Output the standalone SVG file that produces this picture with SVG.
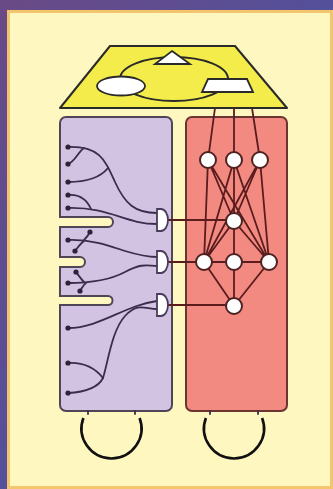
<svg xmlns="http://www.w3.org/2000/svg" width="333" height="489" viewBox="0 0 333 489">
  <style>
    .wire { fill: none; stroke: #3b2c4c; stroke-width: 1.8; stroke-linecap: round; }
    .dot { fill: #2e2238; }
    .gate { fill: #ffffff; stroke: #4a3b5c; stroke-width: 1.8; }
    .net { fill: none; stroke: #5a1c1c; stroke-width: 1.8; }
    .node { fill: #ffffff; stroke: #4f2222; stroke-width: 2; }
    .loop { fill: none; stroke: #111111; stroke-width: 2.6; }
    .shape { fill: #ffffff; stroke: #2a2a2a; stroke-width: 1.8; }
  </style>
  <defs>
    <linearGradient id="frame" x1="0" y1="0" x2="1" y2="1">
      <stop offset="0" stop-color="#6a4a86"/>
      <stop offset="0.5" stop-color="#54509a"/>
      <stop offset="1" stop-color="#6a467e"/>
    </linearGradient>
  </defs>

  <!-- frame and panel -->
  <rect x="0" y="0" width="333" height="489" fill="url(#frame)"/>
  <rect x="7" y="10" width="326" height="479" fill="#f3c56c"/>
  <rect x="10" y="13" width="320" height="473" fill="#fef8c0"/>

  <!-- top plane with cycle -->
  <g id="plane">
    <polygon points="110,46 235,46 287,108 60,108" fill="#f4ec4a" stroke="#2a2a2a" stroke-width="2" stroke-linejoin="round"/>
    <ellipse cx="174" cy="79" rx="54" ry="22" fill="none" stroke="#2a2a2a" stroke-width="2"/>
    <polygon class="shape" points="172,51 190,64 155,64"/>
    <ellipse class="shape" cx="121" cy="86" rx="24" ry="9.5"/>
    <polygon class="shape" points="208,79 247,79 253,92 202,92"/>
  </g>

  <!-- left module with slots -->
  <g id="module-left">
    <path d="M66 117 H166 A6 6 0 0 1 172 123 V405 A6 6 0 0 1 166 411 H66 A6 6 0 0 1 60 405 V305 H108 A4.5 4.5 0 0 0 108 296 H60 V267 H80 A5 5 0 0 0 80 257 H60 V227 H108 A5 5 0 0 0 108 217 H60 V123 A6 6 0 0 1 66 117 Z" fill="#d2c3e3" stroke="#4e4656" stroke-width="2"/>
  </g>

  <!-- right module -->
  <g id="module-right">
    <rect x="186" y="117" width="101" height="294" rx="6" fill="#f28a82" stroke="#6a3530" stroke-width="2"/>
  </g>

  <!-- loops under the modules -->
  <g id="loop-left">
    <path class="wire" d="M88 411 V414 M135 411 V414" stroke="#5a4a66"/>
    <path class="loop" d="M83.4 418 A30 30 0 1 0 139.6 418"/>
  </g>
  <g id="loop-right">
    <path class="wire" d="M210 411 V414 M258 411 V414" stroke="#6a3530"/>
    <path class="loop" d="M205.9 418 A30 30 0 1 0 262.1 418"/>
  </g>

  <!-- connectors -->
  <g id="connectors">
    <!-- input wires -->
    <path class="wire" d="M68 147 C100 146 105 160 115 182 C125 204 135 213 157 213"/>
    <path class="wire" d="M68 164 C75 162 78 152 84 148"/>
    <path class="wire" d="M68 182 C85 182 100 178 108 168"/>
    <path class="wire" d="M68 195 C80 194 87 200 91 209"/>
    <path class="wire" d="M68 208 C110 207 125 224 157 224"/>

    <path class="wire" d="M68 240 C95 239 115 248 125 251 S145 257 157 257"/>
    <path class="wire" d="M90 232 C88 236 86 238 84 240"/>
    <path class="wire" d="M75 251 C78 247 80 244 84 241"/>

    <path class="wire" d="M68 283 C90 283 110 280 125 272 S145 265 157 266"/>
    <path class="wire" d="M76 272 C79 276 81 279 84 282"/>
    <path class="wire" d="M80 291 C82 288 83 285 86 283"/>

    <path class="wire" d="M68 328 C100 328 125 305 157 301"/>
    <path class="wire" d="M68 363 C85 362 95 368 103 378"/>
    <path class="wire" d="M68 393 C85 392 98 388 103 378"/>
    <path class="wire" d="M103 378 C108 362 112 330 125 316 S145 309 157 309"/>

    <!-- gate outputs -->
    <path class="net" d="M168 220 H226 M168 262 H196 M168 305 H226"/>

    <!-- plane to top nodes -->
    <path class="net" d="M215 108 L208 160 M234 108 L234 160 M252 108 L260 160"/>

    <!-- network -->
    <path class="net" d="M208 160 L234 221 M234 160 L234 221 M260 160 L234 221
      M208 160 L204 262 M234 160 L204 262 M260 160 L204 262
      M208 160 L269 262 M234 160 L269 262 M260 160 L269 262
      M234 221 L204 262 M234 221 L234 262 M234 221 L269 262
      M204 262 H269
      M204 262 L234 306 M234 262 L234 306 M269 262 L234 306"/>
  </g>

  <!-- dots -->
  <g id="terminals">
    <circle class="dot" cx="68" cy="147" r="2.6"/>
    <circle class="dot" cx="68" cy="164" r="2.6"/>
    <circle class="dot" cx="68" cy="182" r="2.6"/>
    <circle class="dot" cx="68" cy="195" r="2.6"/>
    <circle class="dot" cx="68" cy="208" r="2.6"/>
    <circle class="dot" cx="68" cy="240" r="2.6"/>
    <circle class="dot" cx="90" cy="232" r="2.6"/>
    <circle class="dot" cx="75" cy="251" r="2.6"/>
    <circle class="dot" cx="68" cy="283" r="2.6"/>
    <circle class="dot" cx="76" cy="272" r="2.6"/>
    <circle class="dot" cx="80" cy="291" r="2.6"/>
    <circle class="dot" cx="68" cy="328" r="2.6"/>
    <circle class="dot" cx="68" cy="363" r="2.6"/>
    <circle class="dot" cx="68" cy="393" r="2.6"/>
  </g>

  <!-- gates -->
  <g id="gate-1"><path class="gate" d="M157 209 H161 A7 11 0 0 1 161 231 H157 Z"/></g>
  <g id="gate-2"><path class="gate" d="M157 251 H161 A7 11 0 0 1 161 273 H157 Z"/></g>
  <g id="gate-3"><path class="gate" d="M157 294 H161 A7 11 0 0 1 161 316 H157 Z"/></g>

  <!-- network nodes -->
  <g id="node-t1"><circle class="node" cx="208" cy="160" r="8"/></g>
  <g id="node-t2"><circle class="node" cx="234" cy="160" r="8"/></g>
  <g id="node-t3"><circle class="node" cx="260" cy="160" r="8"/></g>
  <g id="node-m"><circle class="node" cx="234" cy="221" r="8"/></g>
  <g id="node-r1"><circle class="node" cx="204" cy="262" r="8"/></g>
  <g id="node-r2"><circle class="node" cx="234" cy="262" r="8"/></g>
  <g id="node-r3"><circle class="node" cx="269" cy="262" r="8"/></g>
  <g id="node-b"><circle class="node" cx="234" cy="306" r="8"/></g>
</svg>
